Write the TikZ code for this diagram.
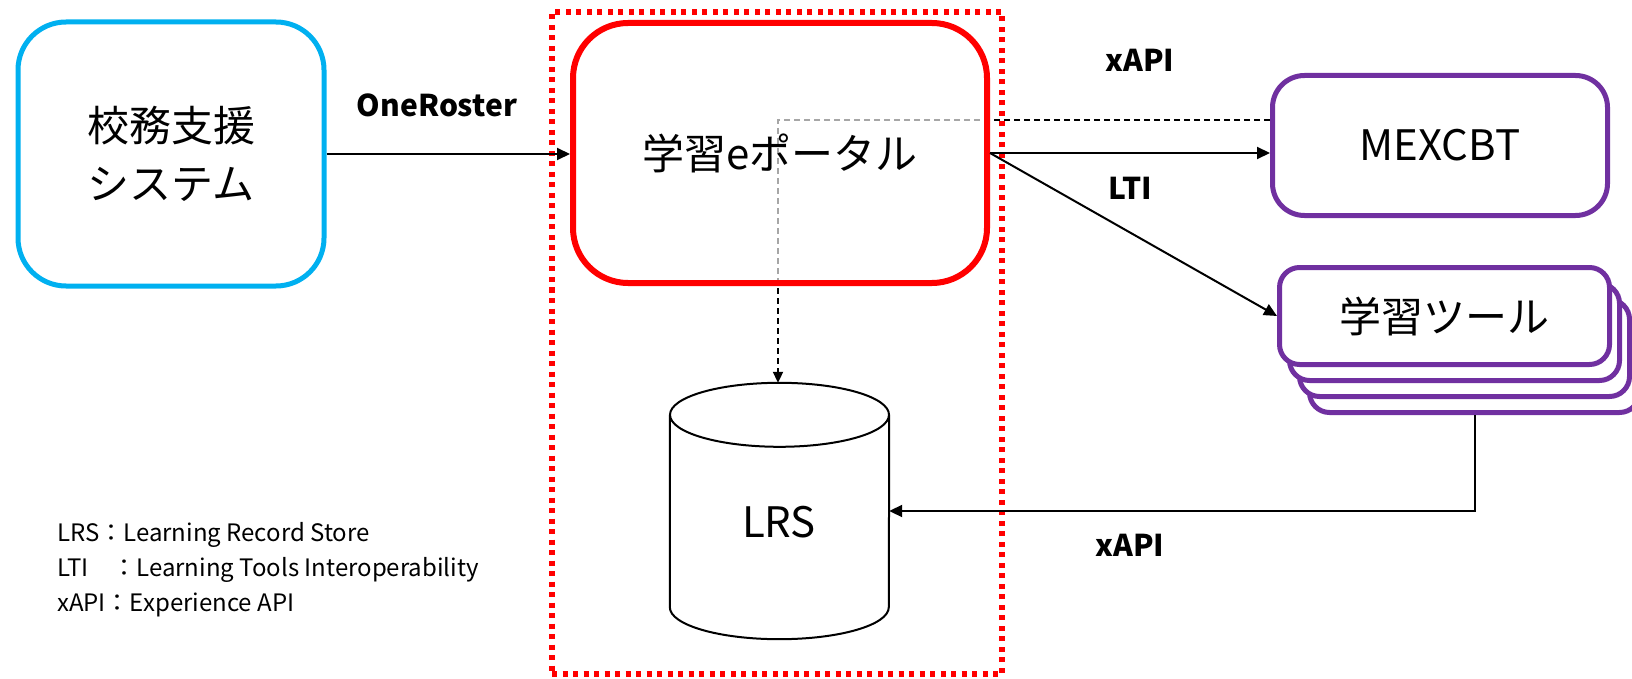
\documentclass[tikz,border=0pt]{standalone}
\usepackage{fontspec}
\setmainfont{Noto Sans CJK JP}
\usetikzlibrary{arrows.meta,calc}
\definecolor{cblue}{HTML}{00B0F0}
\definecolor{cred}{HTML}{FF0000}
\definecolor{cpurple}{HTML}{7030A0}
\tikzset{
  sysbox/.style={draw, fill=white, inner sep=0pt, line width=5pt},
  toolbox/.style={sysbox, draw=cpurple, rounded corners=20pt, minimum width=330pt, minimum height=97pt},
  bigtext/.style={font=\fontsize{42}{58}\selectfont, align=center},
  lbl/.style={font=\bfseries\fontsize{30}{36}\selectfont},
  arr/.style={line width=2pt, -{Triangle[length=13pt,width=12pt]}},
  dasharr/.style={line width=2pt, dash pattern=on 6pt off 4pt, -{Triangle[length=11pt,width=10pt]}},
  cyl/.style={line width=2pt, fill=white}
}
\begin{document}
\begin{tikzpicture}[x=1pt,y=-1pt]
\useasboundingbox (0,0) rectangle (1632,679);

% school system
\node[sysbox, draw=cblue, rounded corners=48pt, minimum width=306pt, minimum height=264pt, bigtext] (kom) at (171,154) {校務支援\\システム};

% MEXCBT
\node[sysbox, draw=cpurple, rounded corners=32pt, minimum width=335pt, minimum height=140pt, bigtext] (mex) at (1440,145.5) {MEXCBT};

% tool stack
\node[toolbox] (t3) at (1474.5,364) {};
\node[toolbox] (t2) at (1464.5,348) {};
\node[toolbox] (t1) at (1454.5,332) {};
\node[toolbox, bigtext] (tool) at (1444.5,316) {学習ツール};

% LRS cylinder
\node[inner sep=0pt, minimum width=219pt, minimum height=256pt] (lrs) at (779.5,511) {};
\draw[cyl] ($(lrs.north west)+(0,32)$) -- ($(lrs.south west)+(0,-32)$)
  arc[start angle=180, end angle=360, x radius=109.5pt, y radius=32pt]
  -- ($(lrs.north east)+(0,32)$);
\draw[cyl] ($(lrs.north)+(0,32)$) ellipse [x radius=109.5pt, y radius=32pt];
\node[bigtext] (lrstext) at (779,522) {LRS};

% dashed xAPI connector (behind the portal box)
\coordinate (jn) at (778,120);
\draw[dasharr] (mex.west |- jn) -- (jn) -- (jn |- lrs.north);

% portal
\node[sysbox, draw=cred, line width=6pt, rounded corners=55pt, minimum width=414pt, minimum height=260pt,
      fill opacity=0.65, text opacity=1, bigtext] (portal) at (780,153) {学習eポータル};

% dotted zone
\node[draw=cred, line width=6pt, dash pattern=on 5pt off 5.5pt, inner sep=0pt, minimum width=450pt, minimum height=662pt] (zone) at (777,343) {};

% connectors
\draw[arr] (kom.east) -- (kom.east -| portal.west);
\draw[arr] (portal.east) -- (portal.east -| mex.west);
\draw[arr] (portal.east) -- (tool.west);
\draw[arr] (t3.south) -- (t3.south |- lrs.east) -- (lrs.east);

% labels
\node[lbl] (lone) at (437,105) {OneRoster};
\node[lbl] (lx1) at (1140,60) {xAPI};
\node[lbl] (llti) at (1130,188) {LTI};
\node[lbl] (lx2) at (1130,545) {xAPI};

% legend
\node[anchor=west, align=left, inner sep=0pt, font=\fontsize{24}{35}\selectfont] (legend) at (57,570)
  {LRS：Learning Record Store\\LTI　：Learning Tools Interoperability\\xAPI：Experience API};
\end{tikzpicture}
\end{document}
